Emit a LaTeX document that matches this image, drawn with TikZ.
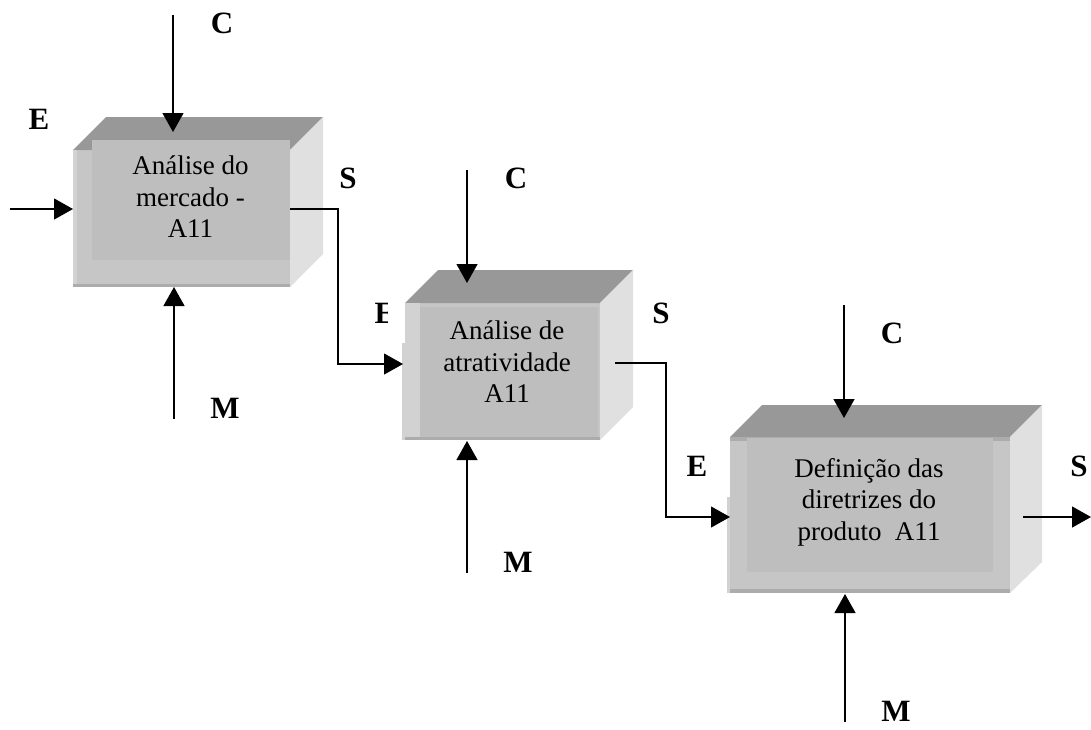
\documentclass[tikz,border=0pt]{standalone}
\usepackage{fontspec}
\setmainfont{Liberation Serif}
\usetikzlibrary{arrows.meta}
\definecolor{topgray}{HTML}{989898}
\definecolor{sidegray}{HTML}{E0E0E0}
\definecolor{framegray}{HTML}{C6C6C6}
\definecolor{panelgray}{HTML}{BEBEBE}
\definecolor{edgegray}{HTML}{ACACAC}
\definecolor{stripgray}{HTML}{D2D2D2}
\tikzset{
  front/.style={fill=framegray, draw=none, inner sep=0pt, outer sep=0pt},
  panel/.style={fill=panelgray, draw=none, inner sep=0pt, outer sep=0pt},
  boxtext/.style={align=center, inner sep=0pt, font=\fontsize{27}{31.5}\selectfont},
  lbl/.style={inner sep=0pt, font=\fontsize{31}{33}\selectfont\bfseries},
  flow/.style={line width=1.3pt, -{Triangle[length=19pt,width=21pt]}},
  elbow/.style={line width=1.1pt, -{Triangle[length=19pt,width=21pt]}}
}
\begin{document}
\begin{tikzpicture}[x=1pt,y=-1pt]
\useasboundingbox (0,0) rectangle (1091,729);

% ---- block 1: Análise do mercado ----
\node[front, minimum width=217pt, minimum height=137pt] (b1) at (181.5,218.5) {};
\fill[topgray] (b1.north west) -- ++(33,-33) -- ++(217,0) -- (b1.north east) -- cycle;
\fill[sidegray] (b1.north east) -- ++(33,-33) -- ++(0,137) -- (b1.south east) -- cycle;
\fill[stripgray] (b1.north west) rectangle ++(4,137);
\fill[edgegray] (b1.south west) rectangle ++(217,-3);
\node[panel, minimum width=198pt, minimum height=120pt] (p1) at (191,200) {};
\node[boxtext] (t1) at (190.5,197) {Análise do\\mercado -\\A11};

% ---- block 2: Análise de atratividade ----
\node[front, minimum width=195pt, minimum height=137pt] (b2) at (502.5,371.5) {};
\fill[topgray] (b2.north west) -- ++(33,-33) -- ++(195,0) -- (b2.north east) -- cycle;
\fill[sidegray] (b2.north east) -- ++(33,-33) -- ++(0,137) -- (b2.south east) -- cycle;
\fill[stripgray] (402,343) rectangle (405,440);
\fill[stripgray] (b2.north west) rectangle ++(15,137);
\fill[edgegray] (b2.south west) rectangle ++(195,-3);
\node[panel, minimum width=178pt, minimum height=130pt] (p2) at (509,372) {};
\node[boxtext] (t2) at (507,362) {Análise de\\atratividade\\A11};

% ---- block 3: Definição das diretrizes ----
\node[front, minimum width=280pt, minimum height=156pt] (b3) at (870,515) {};
\fill[topgray] (b3.north west) -- ++(32,-32) -- ++(280,0) -- (b3.north east) -- cycle;
\fill[sidegray] (b3.north east) -- ++(32,-32) -- ++(0,157) -- (b3.south east) -- cycle;
\fill[stripgray] (727,497) rectangle (730,593);
\fill[edgegray] (b3.north west) rectangle ++(280,4);
\fill[edgegray] (b3.south west) rectangle ++(280,-4);
\node[panel, minimum width=246pt, minimum height=134pt] (p3) at (870,505) {};
\node[boxtext] (t3) at (869,502) {Definição das\\diretrizes do\\produto\ \ A11};

% ---- free ends of the connectors ----
\coordinate (c1s) at (173,15);   \coordinate (c1e) at (173,132);
\coordinate (m1s) at (174,419);  \coordinate (m1e) at (174,287);
\coordinate (e1s) at (10,209);   \coordinate (e1e) at (73,209);
\coordinate (s1s) at (290,209);  \coordinate (s1k) at (338,209);
\coordinate (s1d) at (338,364);  \coordinate (e2e) at (403,364);
\coordinate (c2s) at (467,170);  \coordinate (c2e) at (467,283);
\coordinate (m2s) at (467,573);  \coordinate (m2e) at (467,441);
\coordinate (s2s) at (615,363);  \coordinate (s2k) at (666,363);
\coordinate (s2d) at (666,517);  \coordinate (e3e) at (730,517);
\coordinate (c3s) at (844,305);  \coordinate (c3e) at (844,418);
\coordinate (m3s) at (845,722);  \coordinate (m3e) at (845,594);
\coordinate (s3s) at (1023,517); \coordinate (s3e) at (1091,517);

% ---- connectors ----
\draw[flow] (c1s) -- (c1e);
\draw[flow] (m1s) -- (m1e);
\draw[flow] (e1s) -- (e1e);
\draw[elbow] (s1s) -- (s1k) -- (s1d) -- (e2e);
\draw[flow] (c2s) -- (c2e);
\draw[flow] (m2s) -- (m2e);
\draw[elbow] (s2s) -- (s2k) -- (s2d) -- (e3e);
\draw[flow] (c3s) -- (c3e);
\draw[flow] (m3s) -- (m3e);
\draw[flow] (s3s) -- (s3e);

% ---- labels ----
\node[lbl] (lc1) at (222,23) {C};
\node[lbl] (le1) at (39,119) {E};
\node[lbl] (ls1) at (348,178) {S};
\node[lbl] (lm1) at (225,408) {M};
\begin{scope}
  \clip (360,290) rectangle (387,340);
  \node[lbl] (le2) at (385,313) {E};
\end{scope}
\node[lbl] (lc2) at (516,178) {C};
\node[lbl] (ls2) at (661,313) {S};
\node[lbl] (lm2) at (518,562) {M};
\node[lbl] (lc3) at (892,333) {C};
\node[lbl] (le3) at (697,466) {E};
\node[lbl] (ls3) at (1079,466) {S};
\node[lbl] (lm3) at (896,711) {M};
\end{tikzpicture}
\end{document}
